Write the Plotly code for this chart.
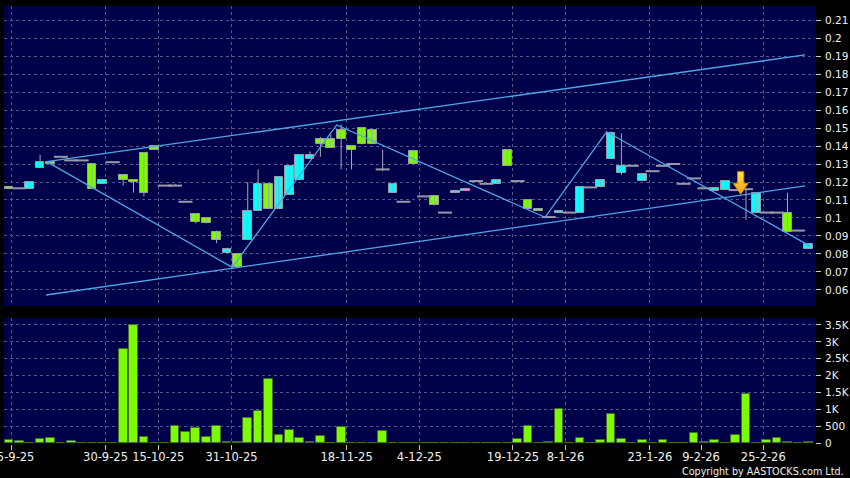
import plotly.graph_objects as go

# ---------------- data ----------------
opens = [0.117, 0.1165, 0.116, 0.128, 0.131, 0.134, 0.132, 0.132, 0.130, 0.119,
         0.131, 0.124, 0.121, 0.136, 0.140, 0.118, 0.118, 0.109, 0.102, 0.100,
         0.092, 0.0805, 0.080, 0.088, 0.104, 0.119, 0.105, 0.113, 0.121, 0.133,
         0.144, 0.144, 0.149, 0.140, 0.150, 0.149, 0.127, 0.114, 0.109, 0.137,
         0.112, 0.112, 0.103, 0.114, 0.115, 0.1205, 0.119, 0.119, 0.138, 0.1205,
         0.110, 0.105, 0.1005, 0.103, 0.103, 0.103, 0.117, 0.117, 0.133, 0.125,
         0.129, 0.1205, 0.126, 0.129, 0.130, 0.119, 0.122, 0.1165, 0.115, 0.1155,
         0.1155, 0.116, 0.103, 0.103, 0.103, 0.103, 0.093, 0.083]
highs = [0.117, 0.1165, 0.120, 0.135, 0.131, 0.134, 0.132, 0.132, 0.130, 0.121,
         0.131, 0.124, 0.121, 0.136, 0.140, 0.118, 0.119, 0.109, 0.102, 0.100,
         0.093, 0.0835, 0.080, 0.120, 0.127, 0.119, 0.123, 0.129, 0.135, 0.137,
         0.145, 0.147, 0.152, 0.140, 0.150, 0.149, 0.138, 0.119, 0.109, 0.137,
         0.112, 0.112, 0.103, 0.115, 0.116, 0.1205, 0.119, 0.121, 0.138, 0.1205,
         0.110, 0.105, 0.1005, 0.104, 0.103, 0.117, 0.117, 0.121, 0.148, 0.147,
         0.129, 0.1245, 0.126, 0.129, 0.130, 0.119, 0.122, 0.1165, 0.1165, 0.1205,
         0.1155, 0.116, 0.114, 0.103, 0.103, 0.114, 0.093, 0.0855]
lows = [0.116, 0.1165, 0.116, 0.128, 0.130, 0.134, 0.132, 0.132, 0.116, 0.119,
        0.131, 0.118, 0.114, 0.112, 0.138, 0.118, 0.118, 0.109, 0.097, 0.097,
        0.086, 0.0805, 0.073, 0.088, 0.104, 0.105, 0.105, 0.113, 0.121, 0.133,
        0.134, 0.139, 0.127, 0.127, 0.141, 0.141, 0.126, 0.114, 0.109, 0.130,
        0.112, 0.107, 0.103, 0.114, 0.115, 0.1205, 0.119, 0.119, 0.129, 0.1205,
        0.105, 0.104, 0.1005, 0.103, 0.103, 0.103, 0.117, 0.117, 0.133, 0.124,
        0.129, 0.1205, 0.126, 0.129, 0.130, 0.119, 0.122, 0.1165, 0.115, 0.1155,
        0.1155, 0.099, 0.103, 0.103, 0.103, 0.092, 0.093, 0.083]
closes = [0.116, 0.1165, 0.120, 0.131, 0.130, 0.134, 0.132, 0.132, 0.116, 0.121,
          0.131, 0.121, 0.120, 0.114, 0.138, 0.118, 0.118, 0.109, 0.098, 0.097,
          0.088, 0.083, 0.073, 0.104, 0.119, 0.105, 0.123, 0.129, 0.135, 0.135,
          0.141, 0.139, 0.144, 0.138, 0.141, 0.141, 0.127, 0.119, 0.109, 0.130,
          0.112, 0.107, 0.103, 0.115, 0.116, 0.1205, 0.119, 0.121, 0.129, 0.1205,
          0.105, 0.104, 0.1005, 0.104, 0.103, 0.117, 0.117, 0.121, 0.147, 0.129,
          0.129, 0.1245, 0.126, 0.129, 0.130, 0.119, 0.122, 0.1165, 0.1165, 0.1205,
          0.1155, 0.116, 0.114, 0.103, 0.103, 0.092, 0.093, 0.0855]
volumes = [100, 80, 0, 120, 170, 0, 70, 0, 20, 0,
           0, 2800, 3500, 200, 0, 0, 520, 345, 460, 185,
           510, 40, 40, 760, 955, 1900, 245, 400, 165, 50,
           205, 0, 490, 15, 15, 0, 365, 10, 0, 10,
           0, 20, 0, 0, 0, 0, 0, 20, 20, 120,
           520, 0, 50, 1005, 0, 165, 0, 100, 875, 135,
           0, 90, 0, 90, 0, 0, 310, 30, 105, 0,
           245, 1450, 0, 108, 148, 25, 0, 45]
session = list(range(len(closes)))

x_tick_pos = [0.29, 9.30, 14.38, 21.44, 32.53, 39.53, 48.55, 53.61, 61.75, 66.67, 72.67]
x_tick_labels = ["15-9-25", "30-9-25", "15-10-25", "31-10-25", "18-11-25", "4-12-25",
                 "19-12-25", "8-1-26", "23-1-26", "9-2-26", "25-2-26"]
price_ticks = [0.06, 0.07, 0.08, 0.09, 0.10, 0.11, 0.12, 0.13, 0.14, 0.15, 0.16,
               0.17, 0.18, 0.19, 0.20, 0.21]
price_tick_labels = ["0.06", "0.07", "0.08", "0.09", "0.1", "0.11", "0.12", "0.13",
                     "0.14", "0.15", "0.16", "0.17", "0.18", "0.19", "0.2", "0.21"]
vol_ticks = [0, 500, 1000, 1500, 2000, 2500, 3000, 3500]
vol_tick_labels = ["0", "500", "1K", "1.5K", "2K", "2.5K", "3K", "3.5K"]

# drawn lines (session index, price)
upper_x = [3.63, 76.69]
upper_y = [0.1313, 0.1906]
lower_x = [3.57, 76.69]
lower_y = [0.0572, 0.1178]
zigzag_x = [3.63, 21.51, 31.57, 51.64, 57.58, 77.17]
zigzag_y = [0.1313, 0.0726, 0.1517, 0.1004, 0.1479, 0.0844]
signal_x = 70.49
signal_y = 0.1132

# ---------------- styles ----------------
UP = "#00FFFF"
DOWN = "#7CFC00"
FLAT = "#9a9aaa"
WICK = "#a8a8b0"
TREND = "#4fa6e6"
BG = "#00004a"
GRID = "#55558a"
TXT = "#f0f0f0"
FONT = "DejaVu Sans"
BODY_W = 0.84

fig = go.Figure()

# wicks
wx, wy = [], []
for i in session:
    if highs[i] > lows[i]:
        wx += [i, i, None]
        wy += [lows[i], highs[i], None]
fig.add_trace(go.Scatter(x=wx, y=wy, mode="lines", line=dict(color=WICK, width=1),
                         hoverinfo="skip", showlegend=False, xaxis="x", yaxis="y"))

# bodies
bx, bbase, bh, bcol = [], [], [], []
fx, fy = [], []
for i in session:
    o, c = opens[i], closes[i]
    if c == o:
        fx.append(i)
        fy.append(c)
    else:
        bx.append(i)
        bbase.append(min(o, c))
        bh.append(abs(c - o))
        bcol.append(UP if c > o else DOWN)
fig.add_trace(go.Bar(x=bx, y=bh, base=bbase, width=BODY_W,
                     marker=dict(color=bcol, line=dict(color="#9c9ca4", width=1)),
                     showlegend=False, xaxis="x", yaxis="y"))
fig.add_trace(go.Scatter(x=fx, y=fy, mode="markers",
                         marker=dict(symbol="line-ew", size=10,
                                     line=dict(color=FLAT, width=2)),
                         showlegend=False, xaxis="x", yaxis="y"))

# trend lines
for lx, ly in [(upper_x, upper_y), (lower_x, lower_y), (zigzag_x, zigzag_y)]:
    fig.add_trace(go.Scatter(x=lx, y=ly, mode="lines", line=dict(color=TREND, width=1.3),
                             hoverinfo="skip", showlegend=False, xaxis="x", yaxis="y"))

# signal arrow
hw, sw, hh, sl = 0.72, 0.30, 0.0061, 0.0064
ax_ = [signal_x, signal_x - hw, signal_x - sw, signal_x - sw, signal_x + sw,
       signal_x + sw, signal_x + hw, signal_x]
ay_ = [signal_y, signal_y + hh, signal_y + hh, signal_y + hh + sl, signal_y + hh + sl,
       signal_y + hh, signal_y + hh, signal_y]
fig.add_trace(go.Scatter(x=ax_, y=ay_, mode="lines", fill="toself",
                         fillgradient=dict(type="vertical",
                                           colorscale=[[0, "#F59A10"], [1, "#FFE84A"]]),
                         line=dict(color="#D98A00", width=1),
                         hoverinfo="skip", showlegend=False, xaxis="x", yaxis="y"))

# volume
fig.add_trace(go.Bar(x=session, y=volumes, width=BODY_W,
                     marker=dict(color=DOWN, line=dict(color="#4a6a2a", width=1)),
                     showlegend=False, xaxis="x2", yaxis="y2"))

xcommon = dict(range=[-0.48, 77.65], tickmode="array", tickvals=x_tick_pos,
               showgrid=True, gridcolor=GRID, griddash="3px,3px", gridwidth=1,
               zeroline=False, showline=False, automargin=False)
ycommon = dict(side="right", tickmode="array", showgrid=True, gridcolor=GRID,
               griddash="3px,3px", gridwidth=1, zeroline=False, showline=False,
               ticks="outside", ticklen=5, tickcolor="#c8c8c8", automargin=False,
               tickfont=dict(family=FONT, size=10.5, color=TXT), ticklabelstandoff=2)

fig.update_layout(
    width=850, height=478,
    margin=dict(l=4, r=35, t=6, b=34, autoexpand=False),
    paper_bgcolor="#000000", plot_bgcolor=BG,
    showlegend=False, bargap=0, barmode="overlay",
    xaxis=dict(xcommon, anchor="y", showticklabels=False, ticks=""),
    xaxis2=dict(xcommon, anchor="y2", matches="x", ticktext=x_tick_labels,
                ticks="outside", ticklen=5, tickcolor="#c8c8c8",
                ticklabeloverflow="allow", ticklabelstandoff=-3,
                tickfont=dict(family=FONT, size=11.5, color=TXT)),
    yaxis=dict(ycommon, domain=[0.3151, 1], range=[0.0511, 0.2178], anchor="x",
               tickvals=price_ticks, ticktext=price_tick_labels),
    yaxis2=dict(ycommon, domain=[0, 0.2877], range=[-20, 3707], anchor="x2",
                tickvals=vol_ticks, ticktext=vol_tick_labels),
    annotations=[dict(text="Copyright by AASTOCKS.com Ltd.", xref="paper", yref="paper",
                      x=1, y=0, xanchor="right", yanchor="middle", xshift=31, yshift=-27,
                      showarrow=False, font=dict(family=FONT, size=9.6, color=TXT))],
)

fig.write_html("out.html", config={"displayModeBar": False},
               post_script="document.body.style.margin='0';document.body.style.background='#000';")
